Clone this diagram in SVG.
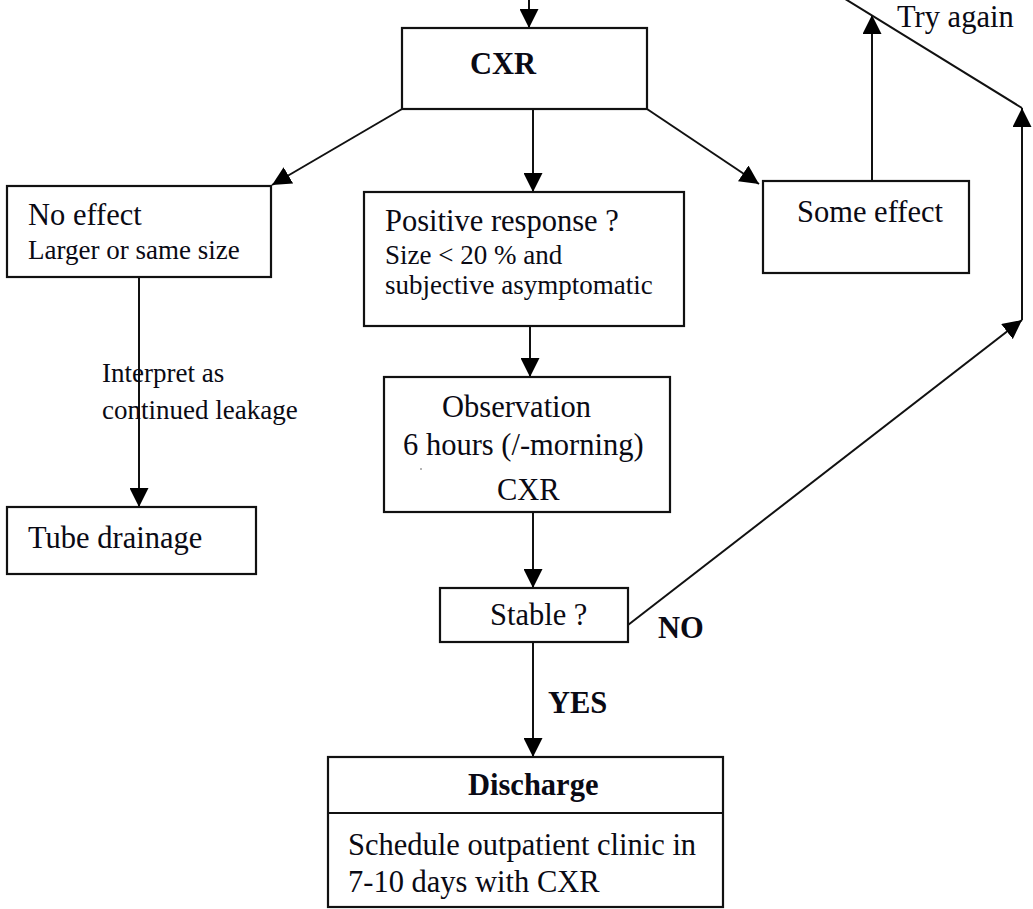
<svg xmlns="http://www.w3.org/2000/svg" width="1033" height="909" viewBox="0 0 1033 909">
  <style>
    .box { fill: #ffffff; stroke: #111; stroke-width: 2.2; }
    .t { font-family: "Liberation Serif", "Times New Roman", serif; fill: #0a0a14; }
    .m { font-size: 30.5px; }
    .s { font-size: 27px; }
    .b { font-weight: bold; }
    .edge { fill: none; stroke: #111; stroke-width: 2; }
    .arrow { marker-end: url(#head); }
  </style>
  <defs>
    <marker id="head" viewBox="0 0 20 20" refX="20" refY="10" markerWidth="19" markerHeight="19" markerUnits="userSpaceOnUse" orient="auto">
      <path d="M0,0 L20,10 L0,20 Z" fill="#000"/>
    </marker>
  </defs>
  <rect width="1033" height="909" fill="#ffffff"/>

  <g id="connectors">
    <line class="edge arrow" x1="529" y1="0" x2="529" y2="28"/>
    <line class="edge arrow" x1="402" y1="109" x2="272" y2="185"/>
    <line class="edge arrow" x1="533" y1="109" x2="533" y2="192"/>
    <line class="edge arrow" x1="647" y1="109" x2="759" y2="184"/>
    <line class="edge arrow" x1="872" y1="181" x2="872" y2="15"/>
    <line class="edge" x1="1022" y1="108" x2="842" y2="-3"/>
    <line class="edge arrow" x1="1022" y1="320" x2="1022" y2="108"/>
    <line class="edge arrow" x1="628" y1="625" x2="1022" y2="320"/>
    <line class="edge arrow" x1="139" y1="277" x2="139" y2="507"/>
    <line class="edge arrow" x1="530" y1="326" x2="530" y2="377"/>
    <line class="edge arrow" x1="533" y1="512" x2="533" y2="588"/>
    <line class="edge arrow" x1="533" y1="642" x2="533" y2="757"/>
    <text class="t m" x="897" y="27">Try again</text>
    <text class="t s" x="102" y="382">Interpret as</text>
    <text class="t s" x="102" y="419">continued leakage</text>
    <text class="t m b" x="658" y="638">NO</text>
    <text class="t m b" x="548" y="713">YES</text>
  </g>

  <g id="cxr">
    <rect class="box" x="402" y="28" width="245" height="81"/>
    <text class="t m b" x="470" y="74">CXR</text>
  </g>

  <g id="no-effect">
    <rect class="box" x="7" y="186" width="264" height="91"/>
    <text class="t m" x="28" y="225">No effect</text>
    <text class="t s" x="28" y="259">Larger or same size</text>
  </g>

  <g id="positive-response">
    <rect class="box" x="364" y="192" width="320" height="134"/>
    <text class="t m" x="385" y="231">Positive response ?</text>
    <text class="t s" x="385" y="264">Size &lt; 20 % and</text>
    <text class="t s" x="385" y="294">subjective asymptomatic</text>
  </g>

  <g id="some-effect">
    <rect class="box" x="763" y="181" width="206" height="92"/>
    <text class="t m" x="797" y="222">Some effect</text>
  </g>

  <g id="tube-drainage">
    <rect class="box" x="7" y="507" width="249" height="67"/>
    <text class="t m" x="28" y="548">Tube drainage</text>
  </g>

  <g id="observation">
    <rect class="box" x="384" y="377" width="286" height="135"/>
    <text class="t m" x="442" y="417">Observation</text>
    <text class="t m" x="403" y="455">6 hours (/-morning)</text>
    <circle cx="421" cy="469" r="0.8" fill="#555"/>
    <text class="t m" x="497" y="500">CXR</text>
  </g>

  <g id="stable">
    <rect class="box" x="440" y="588" width="188" height="54"/>
    <text class="t m" x="490" y="625">Stable ?</text>
  </g>

  <g id="discharge">
    <rect class="box" x="328" y="757" width="395" height="150"/>
    <line x1="328" y1="813" x2="723" y2="813" stroke="#111" stroke-width="2.2"/>
    <text class="t m b" x="468" y="795">Discharge</text>
    <text class="t m" x="348" y="855">Schedule outpatient clinic in</text>
    <text class="t m" x="348" y="892">7-10 days with CXR</text>
  </g>
</svg>
